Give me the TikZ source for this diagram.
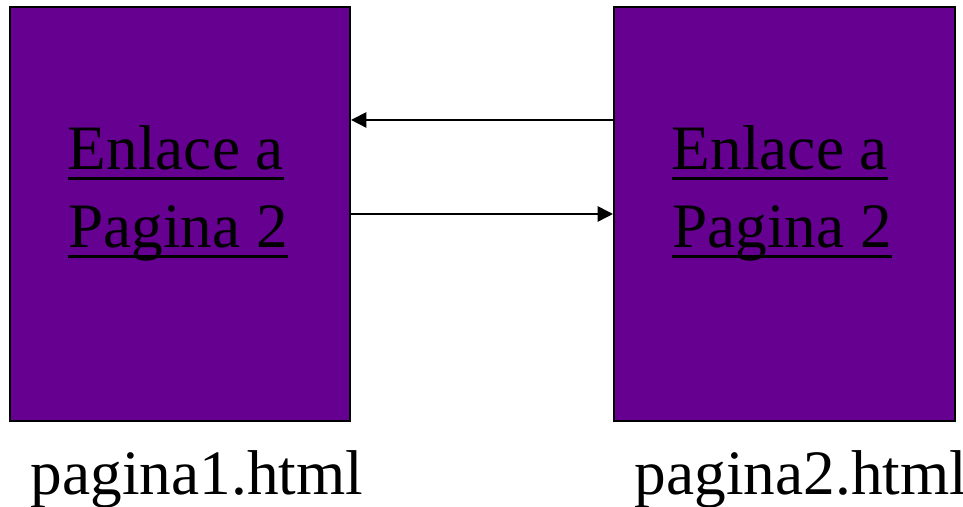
\documentclass[tikz,border=0pt]{standalone}
\usepackage{fontspec}
\setmainfont{Liberation Serif}
\usetikzlibrary{arrows.meta}
\definecolor{pagepurple}{RGB}{102,0,145}
\tikzset{
  pagebox/.style={draw=black, line width=1.4pt, fill=pagepurple, inner sep=0pt,
    minimum width=8.5cm, minimum height=10.35cm},
  linktext/.style={inner sep=0pt, anchor=base, font=\fontsize{45}{55}\selectfont},
  filename/.style={inner sep=0pt, anchor=base, font=\fontsize{45}{55}\selectfont},
  uline/.style={line width=2.1pt},
  linkarrow/.style={line width=1.2pt, -{Triangle[length=11pt,width=11pt]}}
}
\begin{document}
\begin{tikzpicture}[x=0.025cm, y=0.025cm]
  \useasboundingbox (0,0) rectangle (963,507);
  % the two pages
  \node[pagebox] (pag1) at (180,293) {};
  \node[pagebox, minimum width=8.525cm] (pag2) at (784.5,293) {};
  % link texts, underlined
  \node[linktext] (enl1) at (176,337) {Enlace a};
  \node[linktext] (pg1) at (178,259) {Pagina 2};
  \node[linktext] (enl2) at (780,337) {Enlace a};
  \node[linktext] (pg2) at (782,259) {Pagina 2};
  \foreach \t in {enl1,pg1,enl2,pg2}
    \draw[uline] ([yshift=-6pt]\t.base west) -- ([yshift=-6pt]\t.base east);
  % links between the pages
  \draw[linkarrow] ([yshift=2.35cm]pag2.west) -- ([yshift=2.35cm]pag1.east);
  \draw[linkarrow] (pag1.east) -- (pag2.west);
  % file names
  \node[filename] (f1) at (197,12) {pagina1.html};
  \node[filename] (f2) at (801,12) {pagina2.html};
\end{tikzpicture}
\end{document}
